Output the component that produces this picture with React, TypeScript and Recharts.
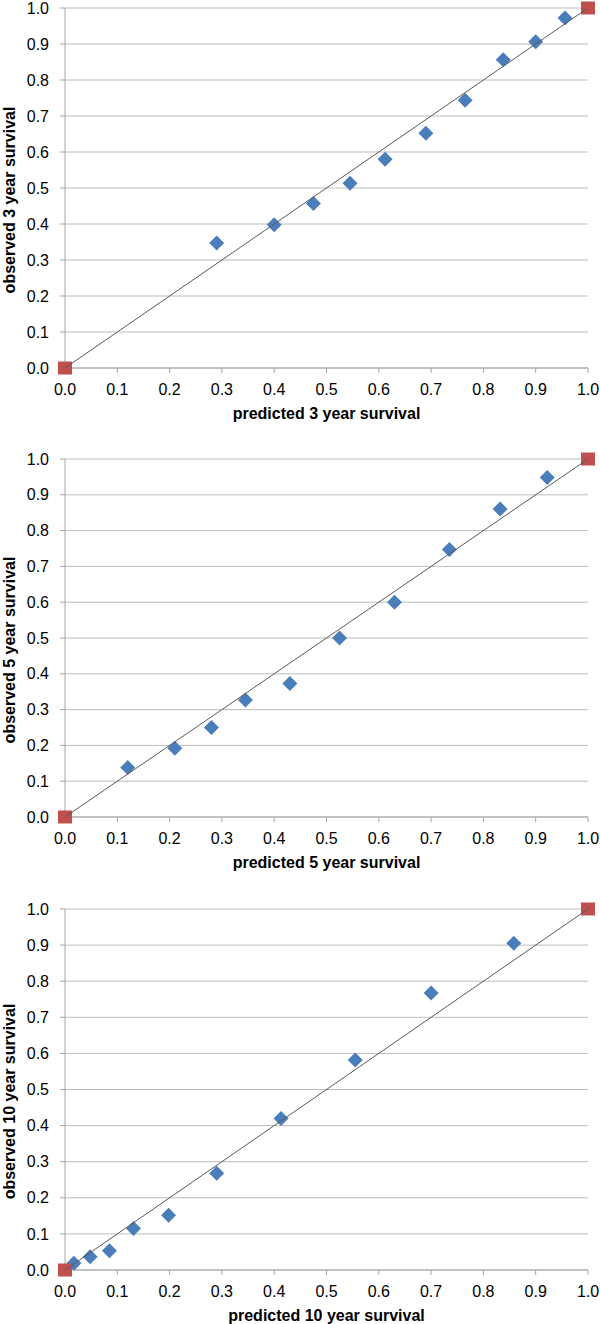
import React from 'react';
import { ScatterChart, Scatter, XAxis, YAxis, CartesianGrid } from 'recharts';

const tickValues = [0, 0.1, 0.2, 0.3, 0.4, 0.5, 0.6, 0.7, 0.8, 0.9, 1.0];

const pred3 = [0.29, 0.40, 0.475, 0.545, 0.612, 0.69, 0.765, 0.838, 0.90, 0.956];
const obs3 = [0.347, 0.398, 0.457, 0.513, 0.58, 0.652, 0.744, 0.856, 0.906, 0.972];

const pred5 = [0.12, 0.21, 0.28, 0.345, 0.43, 0.525, 0.63, 0.735, 0.832, 0.922];
const obs5 = [0.138, 0.192, 0.25, 0.327, 0.373, 0.50, 0.60, 0.747, 0.86, 0.948];

const pred10 = [0.017, 0.048, 0.085, 0.131, 0.198, 0.29, 0.413, 0.555, 0.70, 0.858];
const obs10 = [0.019, 0.037, 0.053, 0.115, 0.152, 0.268, 0.42, 0.582, 0.767, 0.905];

const cornerX = [0, 1];
const cornerY = [0, 1];

const FONT = '"Liberation Sans", Arial, sans-serif';

const Diamond = (props: any) => {
  const { cx, cy } = props;
  const r = 7.5;
  return (
    <polygon
      points={`${cx},${cy - r} ${cx + r},${cy} ${cx},${cy + r} ${cx - r},${cy}`}
      fill="#4a7ebb"
    />
  );
};

const Square = (props: any) => {
  const { cx, cy } = props;
  return <rect x={cx - 7} y={cy - 6.5} width={14} height={13} fill="#c0504d" />;
};

const Empty = () => <g />;

const XTitle = (props: any) => {
  const { viewBox, text } = props;
  return (
    <text
      x={viewBox.x + viewBox.width / 2}
      y={viewBox.y + 51}
      textAnchor="middle"
      fontFamily={FONT}
      fontWeight="bold"
      fontSize={16}
      fill="#000"
    >
      {text}
    </text>
  );
};

const YTitle = (props: any) => {
  const { viewBox, text } = props;
  const cy = viewBox.y + viewBox.height / 2 + 12;
  return (
    <text
      x={9}
      y={cy}
      transform={`rotate(-90, 9, ${cy})`}
      textAnchor="middle"
      dominantBaseline="central"
      fontFamily={FONT}
      fontWeight="bold"
      fontSize={16}
      fill="#000"
    >
      {text}
    </text>
  );
};

type PanelProps = {
  top: number;
  plotH: number;
  pred: number[];
  obs: number[];
  xTitle: string;
  yTitle: string;
};

const Panel = ({ top, plotH, pred, obs, xTitle, yTitle }: PanelProps) => {
  const pts = pred.map((p, i) => ({ x: p, y: obs[i] }));
  const corners = cornerX.map((c, i) => ({ x: c, y: cornerY[i] }));
  const axisH = 54;
  return (
    <div style={{ position: 'absolute', left: 0, top }}>
      <ScatterChart
        width={600}
        height={8 + plotH + axisH}
        margin={{ top: 8, right: 12, bottom: 0, left: 0 }}
      >
        <CartesianGrid vertical={false} stroke="#bcbcbc" />
        <XAxis
          type="number"
          dataKey="x"
          domain={[0, 1]}
          ticks={tickValues}
          interval={0}
          tickFormatter={(v: number) => v.toFixed(1)}
          height={axisH}
          tickSize={5}
          tickMargin={11}
          stroke="#a6a6a6"
          tick={{ fill: '#000', fontSize: 16, fontFamily: FONT }}
          label={<XTitle text={xTitle} />}
        />
        <YAxis
          type="number"
          dataKey="y"
          domain={[0, 1]}
          ticks={tickValues}
          interval={0}
          tickFormatter={(v: number) => v.toFixed(1)}
          width={65}
          tickSize={5}
          tickMargin={11}
          stroke="#a6a6a6"
          tick={{ fill: '#000', fontSize: 16, fontFamily: FONT }}
          label={<YTitle text={yTitle} />}
        />
        <Scatter data={pts} shape={Diamond} isAnimationActive={false} />
        <Scatter data={corners} shape={Square} isAnimationActive={false} />
        <Scatter
          data={corners}
          shape={Empty}
          line={{ stroke: '#595959', strokeWidth: 1 }}
          isAnimationActive={false}
        />
      </ScatterChart>
    </div>
  );
};

export default function App() {
  return (
    <div style={{ position: 'absolute', left: 0, top: 0, width: 600, height: 1324, background: '#fff' }}>
      <Panel top={0} plotH={360} pred={pred3} obs={obs3} xTitle="predicted 3 year survival" yTitle="observed 3 year survival" />
      <Panel top={451} plotH={358} pred={pred5} obs={obs5} xTitle="predicted 5 year survival" yTitle="observed 5 year survival" />
      <Panel top={901} plotH={361} pred={pred10} obs={obs10} xTitle="predicted 10 year survival" yTitle="observed 10 year survival" />
    </div>
  );
}
